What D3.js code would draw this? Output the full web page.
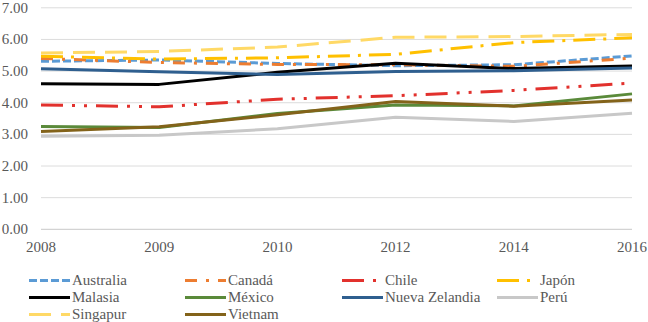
<!DOCTYPE html>
<html>
<head>
<meta charset="utf-8">
<script src="https://cdn.jsdelivr.net/npm/d3@7"></script>
<style>
  body { margin: 0; background: #fff; }
  text { font-family: "Liberation Serif", "Times New Roman", Tinos, serif !important; }
</style>
</head>
<body>
<svg class="chart" width="648" height="322"></svg>
<script>
const years = ["2008", "2009", "2010", "2012", "2014", "2016"];
const yTicks = [0, 1, 2, 3, 4, 5, 6, 7];

const countries = ["Australia", "Canadá", "Chile", "Japón", "Malasia", "México", "Nueva Zelandia", "Perú", "Singapur", "Vietnam"];

const australia     = [5.31, 5.35, 5.24, 5.17, 5.20, 5.48];
const canada        = [5.40, 5.27, 5.21, 5.20, 5.15, 5.41];
const chile         = [3.93, 3.87, 4.11, 4.22, 4.39, 4.62];
const japon         = [5.47, 5.38, 5.42, 5.53, 5.90, 6.05];
const malasia       = [4.60, 4.58, 4.96, 5.25, 5.08, 5.16];
const mexico        = [3.25, 3.22, 3.66, 3.93, 3.90, 4.28];
const nuevaZelandia = [5.07, 4.98, 4.89, 4.99, 5.01, 5.10];
const peru          = [2.94, 2.97, 3.18, 3.54, 3.41, 3.67];
const singapur      = [5.57, 5.62, 5.76, 6.07, 6.09, 6.16];
const vietnam       = [3.09, 3.24, 3.62, 4.04, 3.89, 4.09];

(function lineChart() {
    const svg = d3.select("svg.chart");
    const plot = {left: 41, right: 632, top: 7.8, bottom: 229.3};

    const styles = [
        {color: "#5b9bd5", dash: "8,3"},
        {color: "#ed7d31", dash: "12,9,3,9"},
        {color: "#e2312d", dash: "22,9,3,9,3,9"},
        {color: "#ffc000", dash: "22,8,3,8"},
        {color: "#000000", dash: null},
        {color: "#5a8a3a", dash: null},
        {color: "#2f5f8f", dash: null},
        {color: "#c8c8c8", dash: null},
        {color: "#ffd966", dash: "22,10"},
        {color: "#83631a", dash: null}
    ];
    const values = [australia, canada, chile, japon, malasia, mexico, nuevaZelandia, peru, singapur, vietnam];

    const series = countries.map(function(name, i) {
        return {name: name, values: values[i], style: styles[i]};
    });

    const x = d3.scalePoint().domain(years).range([plot.left, plot.right]);
    const y = d3.scaleLinear().domain([0, 7]).range([plot.bottom, plot.top]);

    // gridlines
    svg.append("g")
        .selectAll("line")
        .data(yTicks)
        .enter()
        .append("line")
        .attr("x1", plot.left)
        .attr("x2", plot.right)
        .attr("y1", function(d) { return y(d); })
        .attr("y2", function(d) { return y(d); })
        .attr("stroke", function(d) { return d === 0 ? "#c9c9c9" : "#dcdcdc"; })
        .attr("stroke-width", 1);

    // y labels
    svg.selectAll("text.ylab")
        .data(yTicks)
        .enter()
        .append("text")
        .attr("class", "ylab")
        .attr("x", 28)
        .attr("y", function(d) { return y(d); })
        .attr("dy", "0.33em")
        .attr("text-anchor", "end")
        .attr("font-size", 15)
        .attr("fill", "#595959")
        .text(function(d) { return d3.format(".2f")(d); });

    // x labels
    svg.selectAll("text.xlab")
        .data(years)
        .enter()
        .append("text")
        .attr("class", "xlab")
        .attr("x", function(d) { return x(d); })
        .attr("y", 252)
        .attr("text-anchor", "middle")
        .attr("font-size", 15)
        .attr("fill", "#595959")
        .text(function(d) { return d; });

    const line = d3.line()
        .x(function(d, i) { return x(years[i]); })
        .y(function(d) { return y(d); });

    svg.append("g")
        .selectAll("path")
        .data(series)
        .enter()
        .append("path")
        .attr("d", function(d) { return line(d.values); })
        .attr("fill", "none")
        .attr("stroke", function(d) { return d.style.color; })
        .attr("stroke-width", 3)
        .attr("stroke-linejoin", "round")
        .attr("stroke-dasharray", function(d) { return d.style.dash; });

    // legend, 4 columns
    const colX = [72, 228, 385, 540];
    const rowY = [280.5, 297.5, 314.5];
    const legend = svg.append("g")
        .selectAll("g")
        .data(series)
        .enter()
        .append("g")
        .attr("transform", function(d, i) {
            return "translate(" + colX[i % 4] + "," + rowY[Math.floor(i / 4)] + ")";
        });

    legend.append("line")
        .attr("x1", -43)
        .attr("x2", -2)
        .attr("stroke", function(d) { return d.style.color; })
        .attr("stroke-width", 3)
        .attr("stroke-dasharray", function(d) { return d.style.dash; });

    legend.append("text")
        .attr("x", 0)
        .attr("y", 4.5)
        .attr("font-size", 15)
        .attr("fill", "#595959")
        .text(function(d) { return d.name; });
})();
</script>
</body>
</html>
